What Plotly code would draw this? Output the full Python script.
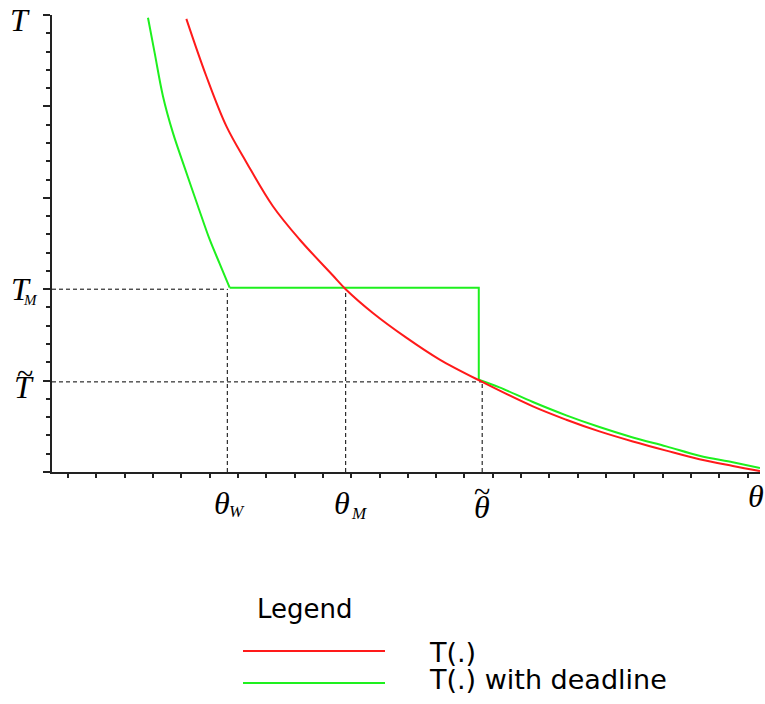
import plotly.graph_objects as go

# ---- data ----
theta_red = [4.744, 5.45, 6.156, 6.862, 7.801, 8.743, 9.919, 10.37, 11.33, 12.51, 13.69,
             15.19, 16.98, 18.16, 19.33, 20.51, 21.69, 22.86, 24.04, 25.0]
T_red = [24.79, 21.65, 18.92, 16.95, 14.54, 12.72, 10.75, 10.0, 8.70, 7.35, 6.15,
         4.93, 3.59, 2.86, 2.22, 1.67, 1.17, 0.70, 0.33, 0.05]

theta_green_upper = [3.389, 3.625, 3.918, 4.271, 4.684, 5.154, 5.567, 5.92, 6.273]
T_green_upper = [24.85, 22.93, 20.56, 18.55, 16.65, 14.54, 12.72, 11.40, 10.08]
theta_green_lower = [15.07, 15.80, 16.98, 18.16, 19.33, 20.51, 21.69, 22.86, 24.04, 25.0]
T_green_lower = [5.05, 4.63, 3.83, 3.10, 2.46, 1.89, 1.40, 0.89, 0.53, 0.22]

theta_W = 6.19
theta_M = 10.37
theta_tilde = 15.19
T_M = 10.0
T_tilde = 4.93

x_range = [0, 25]
y_range = [0, 25]

# ---- figure ----
W, H = 765, 704
ML, MR, MT, MB = 52, 5, 15, 232
PW, PH = W - ML - MR, H - MT - MB

def px2paper_x(px):
    return (px - ML) / PW

def px2paper_y(py):
    return (H - MB - py) / PH

fig = go.Figure()

dash_style = dict(color="black", width=1, dash="4px,3px")
fig.add_trace(go.Scatter(x=[0, theta_W], y=[T_M, T_M], mode="lines", line=dash_style))
fig.add_trace(go.Scatter(x=[0, theta_tilde], y=[T_tilde, T_tilde], mode="lines", line=dash_style))
fig.add_trace(go.Scatter(x=[theta_W, theta_W], y=[0, T_M], mode="lines", line=dash_style))
fig.add_trace(go.Scatter(x=[theta_M, theta_M], y=[0, T_M], mode="lines", line=dash_style))
fig.add_trace(go.Scatter(x=[theta_tilde, theta_tilde], y=[0, T_tilde], mode="lines", line=dash_style))

GREEN = "#1ef01e"
RED = "#ff1a1a"
green_line = dict(color=GREEN, width=2)
fig.add_trace(go.Scatter(x=theta_green_upper, y=T_green_upper, mode="lines",
                         line=dict(green_line, shape="spline", smoothing=1.0)))
fig.add_trace(go.Scatter(
    x=[theta_green_upper[-1], theta_green_lower[0], theta_green_lower[0]],
    y=[T_green_upper[-1], T_green_upper[-1], T_green_lower[0]],
    mode="lines", line=green_line))
fig.add_trace(go.Scatter(x=theta_green_lower, y=T_green_lower, mode="lines",
                         line=dict(green_line, shape="spline", smoothing=1.0)))
fig.add_trace(go.Scatter(x=theta_red, y=T_red, mode="lines",
                         line=dict(color=RED, width=2, shape="spline", smoothing=1.0)))

serif = "Liberation Serif"
lab_size = 32

def add_label(px, py, text, size=lab_size, family=serif, xanchor="center"):
    fig.add_annotation(x=px2paper_x(px), y=px2paper_y(py), xref="paper", yref="paper",
                       text=text, showarrow=False,
                       font=dict(family=family, size=size, color="black"),
                       xanchor=xanchor, yanchor="middle")

# y-axis labels
add_label(20, 20, "<i>T</i>")
add_label(21, 289, "<i>T</i>")
add_label(30, 300, "<i>M</i>", size=15)
add_label(24, 387, "<i>T</i>")
add_label(25, 373, "~", size=30)

# x-axis labels
add_label(221.5, 503, "<i>θ</i>")
add_label(237, 511, "<i>W</i>", size=17)
add_label(341.5, 503, "<i>θ</i>")
add_label(358.5, 513, "<i>M</i>", size=17)
add_label(482, 507, "<i>θ</i>")
add_label(482, 491, "~", size=30)
add_label(756, 496, "<i>θ</i>")

# legend (drawn manually)
sans = "DejaVu Sans"
add_label(255, 609, "Legend", size=26, family=sans, xanchor="left")
fig.add_shape(type="line", xref="paper", yref="paper",
              x0=px2paper_x(243), x1=px2paper_x(385), y0=px2paper_y(651), y1=px2paper_y(651),
              line=dict(color=RED, width=2))
fig.add_shape(type="line", xref="paper", yref="paper",
              x0=px2paper_x(243), x1=px2paper_x(385), y0=px2paper_y(683), y1=px2paper_y(683),
              line=dict(color=GREEN, width=2))
add_label(427, 652, "T(.)", size=27, family=sans, xanchor="left")
add_label(427, 679, "T(.) with deadline", size=27, family=sans, xanchor="left")

fig.update_layout(
    width=W, height=H,
    margin=dict(l=ML, r=MR, t=MT, b=MB),
    plot_bgcolor="white", paper_bgcolor="white",
    showlegend=False,
)
fig.update_xaxes(range=x_range, showgrid=False, zeroline=False, showline=True,
                 linecolor="#222", linewidth=2, ticks="outside", tick0=0.565, dtick=1,
                 ticklen=4, tickwidth=1.5, tickcolor="#222", showticklabels=False)
fig.update_yaxes(range=y_range, showgrid=False, zeroline=False, showline=True,
                 linecolor="#222", linewidth=2, ticks="outside", tick0=0, dtick=5,
                 ticklen=7, tickwidth=1.5, tickcolor="#222", showticklabels=False,
                 minor=dict(dtick=1, tick0=0, ticks="outside", ticklen=4, tickwidth=1.5,
                            tickcolor="#222", showgrid=False))

fig.write_html("out.html", config={"displayModeBar": False},
               post_script="document.body.style.margin='0';document.body.style.padding='0';")
